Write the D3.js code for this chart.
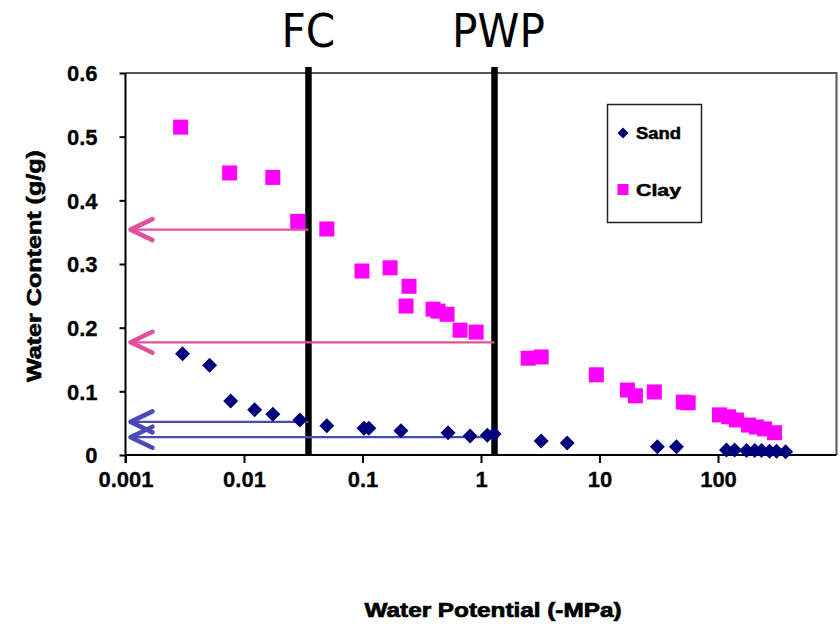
<!DOCTYPE html>
<html>
<head>
<meta charset="utf-8">
<script src="https://cdn.jsdelivr.net/npm/d3@7"></script>
<style>
  body { margin: 0; background: #fff; }
  svg { display: block; }
</style>
</head>
<body>
<div id="app"></div>
<script>
// water potential (-MPa) and water content (g/g)
var sandPotential = [0.00303, 0.00513, 0.00772, 0.0123, 0.0175, 0.0296, 0.050, 0.103, 0.113, 0.211, 0.527, 0.809, 1.13, 1.29,
                     3.22, 5.34, 30.8, 44.6, 118, 138, 174, 204, 233, 272, 312, 372];
var sandContent   = [0.159, 0.141, 0.085, 0.071, 0.064, 0.055, 0.046, 0.042, 0.042, 0.038, 0.035, 0.030, 0.031, 0.033,
                     0.022, 0.019, 0.013, 0.013, 0.008, 0.008, 0.007, 0.007, 0.007, 0.006, 0.006, 0.005];

var clayPotential = [0.00292, 0.00757, 0.0175, 0.0284, 0.050, 0.099, 0.171, 0.247, 0.233, 0.394, 0.434, 0.517, 0.666, 0.910,
                     2.50, 3.22, 9.4, 17.2, 20.1, 29.0, 51, 56, 103, 123, 143, 181, 211, 247, 300];
var clayContent   = [0.515, 0.443, 0.436, 0.367, 0.355, 0.289, 0.294, 0.265, 0.234, 0.229, 0.226, 0.221, 0.196, 0.193,
                     0.152, 0.154, 0.126, 0.102, 0.093, 0.099, 0.083, 0.082, 0.063, 0.060, 0.055, 0.047, 0.044, 0.041, 0.035];

var xTicks = [0.001, 0.01, 0.1, 1, 10, 100];
var xTickLabels = ['0.001', '0.01', '0.1', '1', '10', '100'];
var yTicks = [0, 0.1, 0.2, 0.3, 0.4, 0.5, 0.6];
var yTickLabels = ['0', '0.1', '0.2', '0.3', '0.4', '0.5', '0.6'];

// field capacity and permanent wilting point
var markerNames = ['FC', 'PWP'];
var markerPotential = [0.035, 1.3];

// arrows: content read at FC / PWP
var arrowContent = [0.354, 0.177, 0.052, 0.028];
var arrowFrom    = [0.035, 1.3, 0.035, 1.3];
var arrowSeries  = ['Clay', 'Clay', 'Sand', 'Sand'];

var width = 840, height = 626;

var x = d3.scaleLog().domain([0.001, 1000]).range([125.5, 836.5]);
var y = d3.scaleLinear().domain([0, 0.6]).range([455, 73]);

var svg = d3.select('#app').append('svg').attr('width', width).attr('height', height);

var arial = 'Arial, "Liberation Sans", Helvetica, sans-serif';

// plot area border (top + right)
svg.append('path')
    .attr('d', 'M' + x(0.001) + ',' + y(0.6) + 'H' + x(1000) + 'V' + y(0))
    .attr('fill', 'none').attr('stroke', '#555').attr('stroke-width', 2);

// axes
var xAxis = d3.axisBottom(x).tickValues(xTicks).tickSize(8).tickFormat(function (d, i) { return xTickLabels[i]; });
var gx = svg.append('g').attr('transform', 'translate(0,' + y(0) + ')').call(xAxis);
gx.select('.domain').attr('d', 'M' + x(0.001) + ',0H' + x(1000)).attr('stroke', '#000').attr('stroke-width', 2);
gx.selectAll('.tick line').attr('stroke', '#000').attr('stroke-width', 2);
gx.selectAll('.tick text').attr('font-family', arial).attr('font-weight', 'bold').attr('font-size', 22)
    .attr('fill', '#000').attr('y', 32).attr('dy', 0)
    .attr('stroke', '#000').attr('stroke-width', 0.3);

var yAxis = d3.axisLeft(y).tickValues(yTicks).tickSize(6).tickFormat(function (d, i) { return yTickLabels[i]; });
var gy = svg.append('g').attr('transform', 'translate(' + x(0.001) + ',0)').call(yAxis);
gy.select('.domain').attr('d', 'M0,' + y(0.6) + 'V' + (y(0) + 8)).attr('stroke', '#000').attr('stroke-width', 2);
gy.selectAll('.tick line').attr('stroke', '#000').attr('stroke-width', 2);
gy.selectAll('.tick text').attr('font-family', arial).attr('font-weight', 'bold').attr('font-size', 22)
    .attr('fill', '#000').attr('x', -28).attr('dy', '0.36em')
    .attr('stroke', '#000').attr('stroke-width', 0.3);

// FC / PWP vertical lines and labels
markerPotential.forEach(function (p, i) {
    svg.append('line')
        .attr('x1', x(p)).attr('x2', x(p))
        .attr('y1', y(0.6) - 6).attr('y2', y(0))
        .attr('stroke', '#000').attr('stroke-width', 6.5);
    svg.append('text')
        .attr('x', x(p) + (i ? 4 : 0)).attr('y', 47)
        .attr('text-anchor', 'middle')
        .attr('font-family', '"Liberation Sans Narrow", "DejaVu Sans Condensed", sans-serif')
        .attr('font-size', 47)
        .attr('fill', '#000')
        .text(markerNames[i]);
});

// arrows
var arrowColor = { Clay: '#e2509c', Sand: '#4a4ab4' };
var tipX = x(0.001) + 5;
arrowContent.forEach(function (v, i) {
    var c = arrowColor[arrowSeries[i]];
    var yy = y(v);
    svg.append('line')
        .attr('x1', x(arrowFrom[i])).attr('x2', tipX)
        .attr('y1', yy).attr('y2', yy)
        .attr('stroke', c).attr('stroke-width', 2.2);
    svg.append('path')
        .attr('d', 'M' + (tipX + 22) + ',' + (yy - 10.5) + 'L' + tipX + ',' + yy + 'L' + (tipX + 22) + ',' + (yy + 10.5))
        .attr('fill', 'none').attr('stroke', c).attr('stroke-width', 4.5)
        .attr('stroke-linecap', 'round').attr('stroke-linejoin', 'round');
});

function diamond(r) {
    return 'M0,' + (-r) + 'L' + r + ',0L0,' + r + 'L' + (-r) + ',0Z';
}

// clay squares
svg.append('g').selectAll('rect').data(clayPotential).enter().append('rect')
    .attr('x', function (d) { return x(d) - 7.5; })
    .attr('y', function (d, i) { return y(clayContent[i]) - 7.5; })
    .attr('width', 15).attr('height', 15)
    .attr('fill', '#ff00ff');

// sand diamonds
svg.append('g').selectAll('path').data(sandPotential).enter().append('path')
    .attr('d', diamond(7.5))
    .attr('transform', function (d, i) { return 'translate(' + x(d) + ',' + y(sandContent[i]) + ')'; })
    .attr('fill', '#00007a');

// legend
var lg = svg.append('g');
lg.append('rect').attr('x', 607.5).attr('y', 104.5).attr('width', 94).attr('height', 118)
    .attr('fill', '#fff').attr('stroke', '#222').attr('stroke-width', 1.5);
lg.append('path').attr('d', diamond(5.5)).attr('transform', 'translate(623,133)').attr('fill', '#00007a');
lg.append('rect').attr('x', 617.5).attr('y', 184).attr('width', 11).attr('height', 11).attr('fill', '#ff00ff');
var legendNames = ['Sand', 'Clay'];
legendNames.forEach(function (n, i) {
    lg.append('text')
        .attr('x', 636).attr('y', i ? 196 : 139)
        .attr('font-family', arial).attr('font-weight', 'bold').attr('font-size', 16)
        .attr('textLength', 45).attr('lengthAdjust', 'spacingAndGlyphs')
        .attr('stroke', '#000').attr('stroke-width', 0.5)
        .text(n);
});

// axis titles
svg.append('text')
    .attr('x', 493).attr('y', 617)
    .attr('text-anchor', 'middle')
    .attr('font-family', arial).attr('font-weight', 'bold').attr('font-size', 20)
    .attr('textLength', 257).attr('lengthAdjust', 'spacingAndGlyphs')
    .attr('stroke', '#000').attr('stroke-width', 0.7)
    .text('Water Potential (-MPa)');

svg.append('text')
    .attr('transform', 'translate(41,266) rotate(-90)')
    .attr('text-anchor', 'middle')
    .attr('font-family', arial).attr('font-weight', 'bold').attr('font-size', 20)
    .attr('textLength', 232).attr('lengthAdjust', 'spacingAndGlyphs')
    .attr('stroke', '#000').attr('stroke-width', 0.6)
    .text('Water Content (g/g)');
</script>
</body>
</html>
